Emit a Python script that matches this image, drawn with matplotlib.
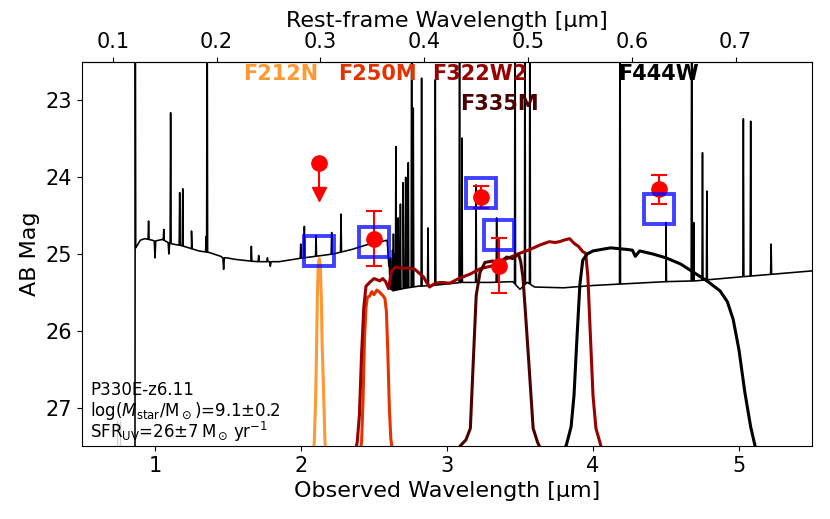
import numpy as np
import matplotlib
matplotlib.use("Agg")
import matplotlib.pyplot as plt

# ---------------- data ----------------
redshift = 6.11

# continuum of the model spectrum (observed micron, AB mag)
cont_wave = [0.50, 0.862, 0.868, 0.90, 0.93, 0.98, 0.995, 1.000, 1.005, 1.05, 1.09, 1.095,
             1.100, 1.12, 1.18, 1.25, 1.30, 1.37, 1.45, 1.465, 1.47, 1.475, 1.49, 1.55,
             1.64, 1.70, 1.785, 1.79, 1.795, 1.85, 1.98, 2.14, 2.22, 2.35, 2.45, 2.55,
             2.59, 2.60, 2.61, 2.63, 2.70, 2.80, 2.90, 3.00, 3.10, 3.30, 3.45, 3.50,
             3.55, 3.60, 3.80, 4.00, 4.20, 4.50, 4.70, 5.00, 5.50]
cont_mag = [30.5, 30.5, 24.92, 24.82, 24.80, 24.82, 24.83, 25.05, 24.83, 24.81, 24.85, 25.00,
            24.86, 24.87, 24.89, 24.93, 24.96, 24.98, 25.03, 25.05, 25.20, 25.05, 25.05, 25.07,
            25.09, 25.10, 25.10, 25.16, 25.10, 25.10, 25.06, 25.02, 25.00, 24.94, 24.88, 24.84,
            24.82, 25.10, 25.45, 25.48, 25.45, 25.42, 25.41, 25.39, 25.37, 25.37, 25.36, 25.46,
            25.37, 25.43, 25.44, 25.41, 25.39, 25.36, 25.35, 25.30, 25.22]

# emission lines (observed micron, peak AB mag; 21 = beyond top of plot)
line_wave = [0.865, 0.956, 1.060, 1.107, 1.169, 1.190, 1.250, 1.350, 1.357, 1.660,
             1.710, 1.770, 1.998, 2.023, 2.103, 2.210, 2.274,
             2.605, 2.612, 2.620, 2.627, 2.633, 2.640, 2.650, 2.666, 2.681, 2.700,
             2.717, 2.735, 2.758, 2.769, 2.826, 2.870, 2.920, 3.086, 3.102, 3.199,
             3.340, 3.466, 3.534, 3.568, 4.185, 4.500, 4.676, 4.690, 4.750, 4.780,
             5.030, 5.080, 5.220]
line_peak = [21.0, 24.57, 24.68, 23.16, 24.20, 24.15, 24.70, 24.77, 21.0, 24.90,
             25.02, 25.05, 24.87, 24.64, 24.76, 24.72, 24.48,
             25.15, 25.05, 25.20, 24.95, 24.74, 25.00, 23.60, 24.53, 24.35, 24.07,
             24.00, 23.81, 21.0, 23.10, 22.71, 24.66, 22.73, 21.0, 23.49, 24.10,
             24.53, 21.0, 21.0, 21.0, 21.0, 24.59, 21.0, 24.59, 23.68, 24.18,
             23.24, 23.27, 24.87]

# faint spikes blueward of Ly-alpha
faint_wave = [0.737, 0.760]
faint_peak = [27.18, 27.18]

# filters
filters = ["F212N", "F250M", "F322W2", "F335M", "F444W"]
filter_cmap_pos = [0.8, 0.6, 0.4, 0.2, 0.0]

# filter curves as drawn (observed micron, plotted level in mag units)
f212n_wave = [2.080, 2.091, 2.100, 2.106, 2.112, 2.118, 2.125, 2.132, 2.139, 2.145, 2.152, 2.164, 2.175]
f212n_lev = [27.70, 27.45, 26.90, 26.30, 25.55, 25.15, 25.06, 25.15, 25.55, 26.20, 26.60, 27.45, 27.70]
f250m_wave = [2.395, 2.415, 2.425, 2.435, 2.445, 2.455, 2.470, 2.485, 2.500, 2.520,
              2.540, 2.560, 2.575, 2.585, 2.595, 2.605, 2.615, 2.635]
f250m_lev = [27.70, 27.45, 26.90, 26.10, 25.70, 25.56, 25.55, 25.49, 25.53, 25.47,
             25.50, 25.54, 25.58, 25.75, 26.30, 27.00, 27.40, 27.70]
f322w2_wave = [2.360, 2.385, 2.400, 2.415, 2.430, 2.445, 2.470, 2.500, 2.540, 2.560,
               2.580, 2.600, 2.620, 2.650, 2.700, 2.730, 2.780, 2.840, 2.860, 2.880,
               2.920, 2.960, 3.020, 3.080, 3.160, 3.230, 3.320, 3.410, 3.500, 3.570,
               3.640, 3.700, 3.740, 3.770, 3.800, 3.840, 3.870, 3.900, 3.930, 3.950,
               3.965, 3.980, 4.000, 4.020, 4.050, 4.080]
f322w2_lev = [27.70, 27.45, 27.10, 26.30, 25.70, 25.42, 25.37, 25.32, 25.35, 25.32,
              25.36, 25.45, 25.22, 25.17, 25.19, 25.18, 25.20, 25.30, 25.37, 25.43,
              25.38, 25.37, 25.38, 25.32, 25.26, 25.19, 25.15, 25.06, 24.99, 24.94,
              24.88, 24.84, 24.85, 24.84, 24.82, 24.80, 24.86, 24.90, 24.97, 24.99,
              25.30, 25.97, 26.84, 27.27, 27.47, 27.70]
f335m_wave = [3.060, 3.090, 3.130, 3.160, 3.180, 3.200, 3.226, 3.260, 3.317, 3.350,
              3.380, 3.410, 3.450, 3.490, 3.505, 3.520, 3.535, 3.560, 3.590, 3.620, 3.680]
f335m_lev = [27.70, 27.50, 27.42, 27.27, 26.40, 25.54, 25.24, 25.11, 25.09, 25.15,
             25.08, 25.04, 25.06, 25.00, 25.10, 25.30, 25.70, 26.40, 27.27, 27.45, 27.70]
f444w_wave = [3.780, 3.820, 3.850, 3.870, 3.890, 3.910, 3.930, 3.960, 4.000, 4.120,
              4.230, 4.270, 4.290, 4.320, 4.410, 4.500, 4.600, 4.690, 4.780, 4.870,
              4.920, 4.960, 5.000, 5.040, 5.080, 5.110, 5.140]
f444w_lev = [27.70, 27.47, 27.25, 26.84, 26.10, 25.40, 25.08, 25.00, 24.96, 24.92,
             24.94, 24.95, 25.03, 24.96, 25.00, 25.05, 25.13, 25.24, 25.35, 25.48,
             25.62, 25.85, 26.25, 26.80, 27.25, 27.50, 27.70]

# photometry (observed micron, AB mag)
phot_wave = [2.121, 2.503, 3.232, 3.354, 4.450]
phot_mag = [23.82, 24.80, 24.26, 25.15, 24.16]
phot_err = [0.0, 0.36, 0.14, 0.36, 0.19]
phot_is_limit = [True, False, False, False, False]
limit_arrow_len = 0.40
model_mag = [24.96, 24.85, 24.20, 24.75, 24.42]

# filter label positions (data coords)
label_x = [1.86, 2.524, 3.223, 3.356, 4.449]
label_y = [22.66, 22.66, 22.66, 23.05, 22.66]

info_lines = ["P330E-z6.11",
              r"log($M_{\rm star}$/M$_\odot$)=9.1$\pm$0.2",
              r"SFR$_{\rm UV}$=26$\pm$7$\,$M$_\odot\,$yr$^{-1}$"]

xticks = [1, 2, 3, 4, 5]
yticks = [23, 24, 25, 26, 27]
rest_ticks = [0.1, 0.2, 0.3, 0.4, 0.5, 0.6, 0.7]

# ---------------- build spectrum ----------------
dl = 0.0035
spec_w = list(cont_wave)
spec_m = list(cont_mag)
for lw_, pk in zip(line_wave, line_peak):
    base_l = np.interp(lw_ - dl, cont_wave, cont_mag)
    base_r = np.interp(lw_ + dl, cont_wave, cont_mag)
    spec_w += [lw_ - dl, lw_, lw_ + dl]
    spec_m += [base_l, pk, base_r]
order = np.argsort(spec_w, kind="stable")
spec_w = np.array(spec_w)[order]
spec_m = np.array(spec_m)[order]

# ---------------- plot ----------------
fig = plt.figure(figsize=(8.3, 5.19), dpi=100)
ax = fig.add_axes([0.0988, 0.1407, 0.8795, 0.7398])

for fw, fp in zip(faint_wave, faint_peak):
    ax.plot([fw, fw], [28.0, fp], color="lightgray", lw=1.0, zorder=1)

ax.plot(spec_w, spec_m, color="black", lw=1.15, zorder=2)

cmap = plt.get_cmap("gist_heat")
colors = [cmap(p) for p in filter_cmap_pos]
curves = [(f212n_wave, f212n_lev), (f250m_wave, f250m_lev), (f322w2_wave, f322w2_lev),
          (f335m_wave, f335m_lev), (f444w_wave, f444w_lev)]
for (cw, cl), c in zip(curves, colors):
    ax.plot(cw, cl, color=c, lw=2.2, zorder=3)

for name, x, y, c in zip(filters, label_x, label_y, colors):
    ax.text(x, y, name, color=c, fontsize=15, fontweight="bold", ha="center", va="center", zorder=6)

for w, m, e, lim in zip(phot_wave, phot_mag, phot_err, phot_is_limit):
    if lim:
        ax.plot([w, w], [m, m + limit_arrow_len - 0.1], color="red", lw=1.5, zorder=4)
        ax.plot(w, m + limit_arrow_len, marker="v", color="red", ms=10, zorder=4)
        ax.plot(w, m, "o", color="red", ms=11, zorder=4)
    else:
        ax.errorbar(w, m, yerr=e, fmt="o", color="red", ms=11, capsize=6,
                    elinewidth=1.5, capthick=1.5, zorder=4)

ax.plot(phot_wave, model_mag, "s", mfc="none", mec="blue", ms=21, mew=2.8, alpha=0.75,
        ls="none", zorder=5)

ax.set_xlim(0.5, 5.5)
ax.set_ylim(27.5, 22.5)
ax.set_xticks(xticks)
ax.set_yticks(yticks)
ax.tick_params(labelsize=15)
ax.set_xlabel("Observed Wavelength [µm]", fontsize=16)
ax.set_ylabel("AB Mag", fontsize=16)

sec = ax.secondary_xaxis("top", functions=(lambda x: x / (1 + redshift),
                                           lambda x: x * (1 + redshift)))
sec.set_xticks(rest_ticks)
sec.tick_params(labelsize=15)
sec.set_xlabel("Rest-frame Wavelength [µm]", fontsize=16)

for txt, yy in zip(info_lines, [0.146, 0.091, 0.036]):
    ax.text(0.011, yy, txt, transform=ax.transAxes, fontsize=12, ha="left", va="center", zorder=6)

fig.savefig("out.png", dpi=100)
